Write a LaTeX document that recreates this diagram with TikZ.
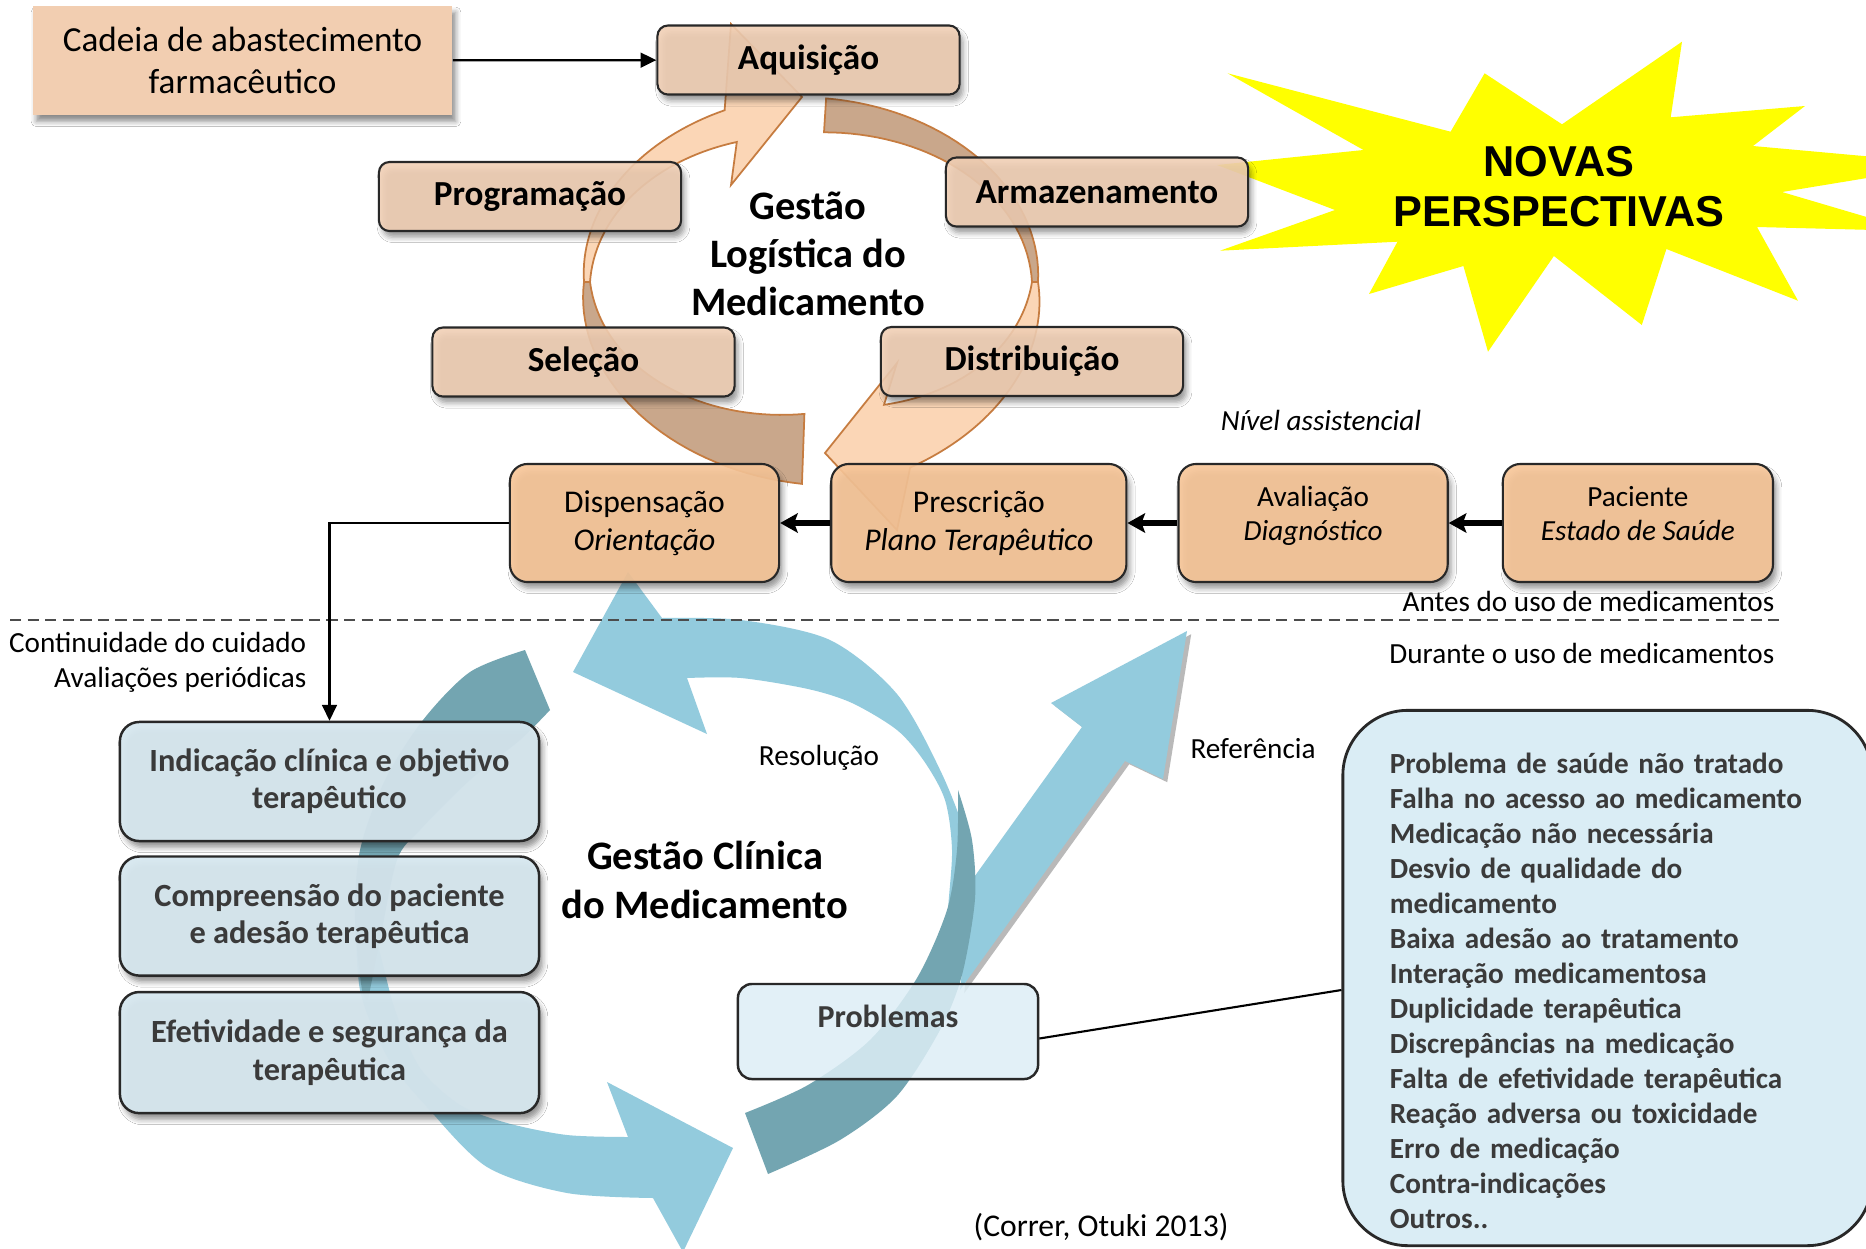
\documentclass[tikz,border=0pt]{standalone}
\usepackage{fontspec}
\setmainfont{Carlito}
\newfontfamily\starfont{Liberation Sans}
\usepackage{tikz}
\usetikzlibrary{arrows.meta, positioning, backgrounds, calc, shadows.blur}
\definecolor{cadeiafill}{RGB}{242, 206, 177}
\definecolor{peachbox}{RGB}{242, 208, 181}
\definecolor{peachdeep}{RGB}{248, 198, 152}
\definecolor{peachlight}{RGB}{251, 214, 182}
\definecolor{peachbrown}{RGB}{201, 167, 139}
\definecolor{peachline}{RGB}{198, 124, 64}
\definecolor{boxline}{RGB}{40, 40, 40}
\definecolor{clinfill}{RGB}{215, 232, 240}
\definecolor{probfill}{RGB}{221, 238, 246}
\definecolor{listfill}{RGB}{218, 237, 245}
\definecolor{bluelight}{RGB}{147, 203, 221}
\definecolor{bluedark}{RGB}{115, 165, 177}
\definecolor{textgray}{RGB}{58, 58, 58}
\definecolor{staryellow}{RGB}{255, 255, 0}

% band of the logistics cycle: start angle, end angle, start half width, end half width, style, head
\newcommand{\ringband}[6]{%
  \filldraw[#5]
    plot[domain=#1:#2, samples=36, variable=\ang]
      ({811+(224+(#3+(#4-#3)*(\ang-(#1))/((#2)-(#1))))*cos(\ang)},
       {282+(167+(#3+(#4-#3)*(\ang-(#1))/((#2)-(#1))))*sin(\ang)})
    #6
    -- plot[domain=#2:#1, samples=36, variable=\ang]
      ({811+(224-(#3+(#4-#3)*(\ang-(#1))/((#2)-(#1))))*cos(\ang)},
       {282+(167-(#3+(#4-#3)*(\ang-(#1))/((#2)-(#1))))*sin(\ang)})
    -- cycle;}

\begin{document}
\begin{tikzpicture}[
        x=0.01cm, y=-0.01cm,
        softshadow/.style={blur shadow={shadow xshift=1pt, shadow yshift=-1.8pt, shadow opacity=45, shadow blur radius=1.5pt}},
        cadeiabox/.style={rectangle, fill=cadeiafill, minimum width=4.19cm, minimum height=1.09cm, align=center, font=\fontsize{10}{12}\selectfont, softshadow},
        logbox/.style={rectangle, draw=boxline, line width=0.6pt, fill=peachbox, fill opacity=0.88, text opacity=1, rounded corners=3pt, minimum width=3.02cm, minimum height=0.69cm, font=\fontsize{10}{12}\selectfont\bfseries, softshadow},
        carebox/.style={rectangle, draw=boxline, line width=0.6pt, fill=peachdeep, fill opacity=0.9, text opacity=1, rounded corners=5pt, minimum width=2.69cm, minimum height=1.18cm, align=center, font=\fontsize{9}{10.8}\selectfont, softshadow},
        smallcare/.style={font=\fontsize{8.3}{9.7}\selectfont},
        clinbox/.style={rectangle, draw=boxline, line width=0.7pt, fill=clinfill, fill opacity=0.94, text opacity=1, rounded corners=5.5pt, minimum width=4.19cm, minimum height=1.19cm, align=center, text=textgray, font=\fontsize{9.2}{10.6}\selectfont\bfseries, softshadow},
        probbox/.style={rectangle, draw=boxline, line width=0.7pt, fill=probfill, fill opacity=0.85, text opacity=1, rounded corners=4pt, minimum width=3cm, inner ysep=0.1cm, text height=0.33cm, text depth=0.42cm, text=textgray, font=\fontsize{9.1}{11}\selectfont\bfseries},
        listbox/.style={rectangle, draw=boxline, line width=0.8pt, fill=listfill, rounded corners=0.65cm, minimum width=5.29cm, minimum height=5.35cm, inner xsep=0.47cm, text width=4.35cm, align=left, text=textgray, font=\fontsize{8.3}{9.95}\selectfont\bfseries},
        centerlabel/.style={align=center, font=\fontsize{11.5}{13.7}\selectfont\bfseries},
        starlabel/.style={align=center, font=\starfont\fontsize{12.3}{14.2}\selectfont\bfseries},
        smalltext/.style={inner sep=0pt, font=\fontsize{8.3}{10}\selectfont},
        lightband/.style={fill=peachlight, draw=peachline, line width=0.5pt},
        brownband/.style={fill=peachbrown, draw=peachline, line width=0.5pt},
        thinarrow/.style={-{Triangle[length=4.5pt, width=4.2pt]}, line width=0.65pt, draw=black},
        carearrow/.style={-{Stealth[length=5pt, width=5.5pt, inset=1pt]}, line width=1.5pt, draw=black},
        thinline/.style={line width=0.6pt, draw=black},
        sepline/.style={dash pattern=on 3.2pt off 1.8pt, line width=0.6pt, draw=black!70}
    ]
    \useasboundingbox (0,0) rectangle (1866,1248);

    % Nodes
    \node[cadeiabox] (cadeia) at (242.5,60.5) {Cadeia de abastecimento\\farmacêutico};
    \node[logbox] (aquis) at (808.5,60) {Aquisição};
    \node[logbox] (prog) at (530,196.5) {Programação};
    \node[logbox] (armaz) at (1097,192) {Armazenamento};
    \node[logbox] (selec) at (583.5,362) {Seleção};
    \node[logbox] (distr) at (1032,361.5) {Distribuição};
    \node[centerlabel] (logistica) at (808,254) {Gestão\\Logística do\\Medicamento};

    \node[carebox] (disp) at (644.5,523) {Dispensação\\\textit{Orientação}};
    \node[carebox, right=0.5cm of disp, minimum width=2.95cm] (presc) {Prescrição\\\textit{Plano Terapêutico}};
    \node[carebox, smallcare, right=0.5cm of presc] (aval) {Avaliação\\\textit{Diagnóstico}\rule[-5.5pt]{0pt}{0pt}};
    \node[carebox, smallcare, right=0.53cm of aval, minimum width=2.7cm] (pac) {Paciente\\\textit{Estado de Saúde}\rule[-5.5pt]{0pt}{0pt}};

    \node[clinbox] (indic) at (329.5,781.5) {Indicação clínica e objetivo\\terapêutico};
    \node[clinbox, below=0.13cm of indic] (compr) {Compreensão do paciente\\e adesão terapêutica};
    \node[clinbox, below=0.14cm of compr, minimum height=1.21cm] (efet) {Efetividade e segurança da\\terapêutica};
    \node[probbox] (prob) at (888,1031.5) {Problemas};
    \node[centerlabel] (clinica) at (705,880) {Gestão Clínica\\do Medicamento};
    \node[listbox] (lista) at (1607.5,978) {\rule{0pt}{13pt}Problema de saúde não tratado\\
        Falha no acesso ao medicamento\\
        Medicação não necessária\\
        Desvio de qualidade do\\
        medicamento\\
        Baixa adesão ao tratamento\\
        Interação medicamentosa\\
        Duplicidade terapêutica\\
        Discrepâncias na medicação\\
        Falta de efetividade terapêutica\\
        Reação adversa ou toxicidade\\
        Erro de medicação\\
        Contra-indicações\\
        Outros..};
    \node[starlabel] (novas) at (1559,187) {NOVAS\\PERSPECTIVAS};

    % Labels
    \node[smalltext, font=\fontsize{8.3}{10}\selectfont\itshape] (nivel) at (1321,420) {Nível assistencial};
    \node[smalltext, anchor=east] (antes) at (1775,601) {Antes do uso de medicamentos};
    \node[smalltext, anchor=east] (durante) at (1775,653) {Durante o uso de medicamentos};
    \node[smalltext, anchor=east, align=right] (continuidade) at (307,662) {Continuidade do cuidado\\Avaliações periódicas};
    \node[smalltext] (resolucao) at (819,758) {Resolução};
    \node[smalltext] (referencia) at (1253,749) {Referência};
    \node[font=\fontsize{9}{11}\selectfont] (fonte) at (1101,1227) {(Correr, Otuki 2013)};

    % Cycles
    \begin{scope}[on background layer]
        \fill[white] (0,0) rectangle (1866,1248);
        \fill[staryellow] (1217,165) -- (1363.5,150) -- (1227.6,73.3) -- (1450.6,131.7) -- (1484.6,73.3) -- (1562,124.3)
            -- (1682,41.7) -- (1670.7,117.3) -- (1805,106) -- (1753,146) -- (1952,164) -- (1782,192) -- (1914,231)
            -- (1757,227) -- (1798,300.7) -- (1666.4,249) -- (1641.8,325) -- (1553.9,256) -- (1488,351.7)
            -- (1463.4,266) -- (1369,294) -- (1397.5,241.7) -- (1220,250.7) -- (1335,210) -- cycle;

        \ringband{180}{249}{3}{17}{lightband}{-- (731,24) -- (802,97) -- (731,185)}
        \ringband{273.6}{360}{17}{3}{brownband}{}
        \ringband{0}{67.4}{3}{34}{lightband}{-- (897,530) -- (825,453) -- (897,363)}
        \ringband{92}{180}{35}{3}{brownband}{}

        \fill[gray!55, xshift=1.2pt, yshift=-0.9pt] (972,880) -- (1082,727) -- (1051,703) -- (1187,631) -- (1163,779) -- (1125,761) -- (960,990) -- cycle;
        \fill[bluelight] (972,880) -- (1082,727) -- (1051,703) -- (1187,631) -- (1163,779) -- (1125,761) -- (960,990) -- cycle;

        \fill[bluelight] (573,672) -- (628,572) -- (662,618)
            -- plot[smooth] coordinates {(662,618) (741,620) (830,640) (897,694) (942,774) (969,846) (975,899) (958,960) (945,975)}
            -- plot[smooth] coordinates {(945,975) (948,910) (952,850) (945,800) (924,761) (897,730) (852,703) (808,689) (741,678) (687,678)}
            -- (707,734) -- cycle;
        \fill[bluedark] (745,1113) -- (768,1174)
            -- plot[smooth] coordinates {(768,1174) (840,1140) (897,1096) (940,1030) (962,975) (975,899) (972,840) (958,790)}
            -- plot[smooth] coordinates {(958,790) (957,850) (947,910) (917,978) (870,1040) (808,1085) (745,1113)}
            -- cycle;

        \fill[bluelight] (356,900)
            -- plot[smooth] coordinates {(356,900) (360,990) (388,1058) (427,1107) (487,1167) (567,1193) (653,1198)}
            -- (683,1252) -- (733,1148) -- (607,1082) -- (628,1137)
            -- plot[smooth] coordinates {(628,1137) (567,1135) (507,1123) (460,1105) (420,1068) (395,1010) (376,940) (356,900)}
            -- cycle;
        \fill[bluedark] (525,650) -- (550,710)
            -- plot[smooth] coordinates {(550,710) (520,740) (470,780) (420,830) (397,860) (380,940) (368,1000)}
            -- plot[smooth] coordinates {(368,1000) (362,990) (355,920) (360,850) (385,780) (423,720) (470,672) (525,650)}
            -- cycle;

        \draw[sepline] (10,620) -- (1779,620);
    \end{scope}

    % Connections
    \draw[thinarrow] (cadeia) -- (aquis);
    \draw[carearrow] (pac) -- (aval);
    \draw[carearrow] (aval) -- (presc);
    \draw[carearrow] (presc) -- (disp);
    \draw[thinarrow] (disp.west) -| (indic.north);
    \draw[thinline] ($(prob.east)+(0,7)$) -- ($(lista.west)+(0,12)$);
\end{tikzpicture}
\end{document}
